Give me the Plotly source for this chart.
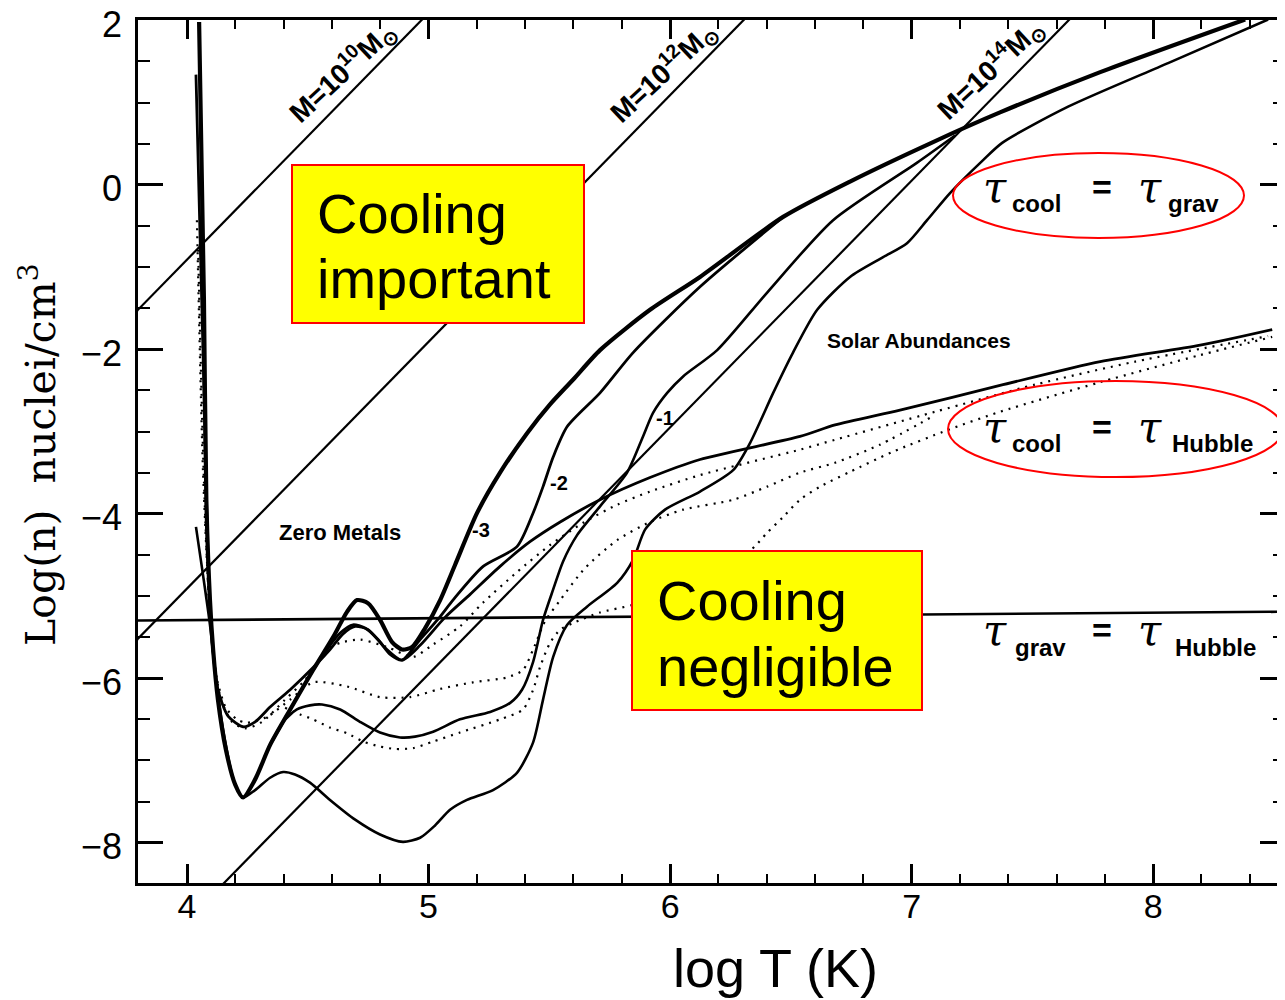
import plotly.graph_objects as go

# ---------------- data (log T [K], log n [nuclei/cm^3]) ----------------
# tau_cool = tau_grav, zero metals (thick)
logT_zero = [4.05, 4.07, 4.08, 4.095, 4.108, 4.128, 4.161, 4.199, 4.232, 4.282, 4.344, 4.427, 4.522, 4.605,
             4.663, 4.704, 4.750, 4.799, 4.849, 4.890, 4.932, 4.986, 5.048, 5.110, 5.201, 5.296, 5.408, 5.503,
             5.598, 5.710, 5.917, 6.124, 6.468, 6.745, 7.089, 7.366, 7.781, 8.381]
logn_zero = [1.98, -1.40, -3.83, -5.05, -5.65, -6.26, -6.87, -7.29, -7.45, -7.23, -6.81, -6.38, -5.90, -5.50,
             -5.19, -5.05, -5.09, -5.29, -5.56, -5.65, -5.62, -5.39, -5.05, -4.62, -3.99, -3.50, -3.02, -2.67,
             -2.37, -2.01, -1.52, -1.12, -0.39, 0.04, 0.52, 0.88, 1.37, 2.01]

# [Fe/H] = -2 curve
logT_m2 = [4.344, 4.427, 4.522, 4.584, 4.634, 4.687, 4.737, 4.791, 4.841, 4.890, 4.965, 5.048, 5.101, 5.226,
           5.366, 5.433, 5.474, 5.516, 5.574, 5.710, 5.847, 6.124, 6.468]
logn_m2 = [-6.81, -6.38, -5.90, -5.63, -5.45, -5.35, -5.39, -5.53, -5.71, -5.78, -5.53, -5.25, -5.05, -4.64,
           -4.40, -3.99, -3.67, -3.31, -2.94, -2.53, -2.04, -1.24, -0.39]

# [Fe/H] = -1 curve
logT_m1 = [4.344, 4.398, 4.455, 4.509, 4.559, 4.634, 4.716, 4.799, 4.882, 4.944, 5.019, 5.130, 5.255, 5.338,
           5.387, 5.433, 5.474, 5.516, 5.557, 5.615, 5.710, 5.822, 5.888, 5.930, 5.988, 6.054, 6.195, 6.402,
           6.675, 7.023, 7.180]
logn_m1 = [-6.81, -6.53, -6.38, -6.33, -6.32, -6.38, -6.53, -6.66, -6.72, -6.71, -6.65, -6.50, -6.41, -6.30,
           -6.14, -5.80, -5.29, -4.92, -4.58, -4.26, -3.91, -3.50, -3.06, -2.77, -2.53, -2.33, -2.01, -1.31,
           -0.43, 0.27, 0.60]

# solar abundances
logT_sol = [4.037, 4.066, 4.095, 4.120, 4.157, 4.195, 4.232, 4.282, 4.344, 4.398, 4.447, 4.509, 4.592, 4.696,
            4.799, 4.894, 4.965, 5.027, 5.089, 5.159, 5.267, 5.366, 5.433, 5.474, 5.516, 5.574, 5.656, 5.781,
            5.847, 5.897, 5.979, 6.124, 6.261, 6.331, 6.427, 6.509, 6.609, 6.745, 6.882, 6.981, 7.064, 7.159,
            7.296, 7.375, 7.648, 8.062, 8.476]
logn_sol = [-4.16, -4.74, -5.35, -6.02, -6.75, -7.26, -7.45, -7.36, -7.21, -7.14, -7.17, -7.27, -7.48, -7.72,
            -7.90, -7.99, -7.94, -7.79, -7.60, -7.48, -7.36, -7.15, -6.78, -6.26, -5.74, -5.35, -5.13, -4.84,
            -4.56, -4.19, -3.95, -3.73, -3.47, -3.14, -2.53, -2.04, -1.52, -1.12, -0.88, -0.71, -0.43, -0.10,
            0.30, 0.51, 0.95, 1.48, 2.01]

# tau_cool = tau_Hubble, zero metals (solid)
logT_hub = [4.037, 4.066, 4.087, 4.104, 4.128, 4.170, 4.232, 4.282, 4.344, 4.427, 4.522, 4.592, 4.646, 4.696,
            4.750, 4.820, 4.890, 4.965, 5.068, 5.172, 5.296, 5.420, 5.545, 5.710, 5.917, 6.124, 6.538, 6.683,
            6.952, 7.366, 7.781, 8.195, 8.493]
logn_hub = [1.34, -2.01, -4.56, -5.53, -6.14, -6.46, -6.59, -6.53, -6.35, -6.14, -5.87, -5.65, -5.46, -5.37,
            -5.41, -5.63, -5.78, -5.60, -5.26, -4.98, -4.64, -4.34, -4.10, -3.83, -3.56, -3.34, -3.06, -2.92,
            -2.74, -2.44, -2.15, -1.95, -1.76]

# dotted curves
logT_dot_a = [4.041, 4.066, 4.091, 4.112, 4.141, 4.186, 4.240, 4.311, 4.406, 4.489, 4.542, 4.580, 4.634, 4.716,
              4.828, 4.936, 5.019, 5.130, 5.226, 5.366, 5.503, 5.640, 5.781, 5.917, 6.124, 6.538, 6.683, 7.097,
              7.511, 7.926, 8.476]
logn_dot_a = [-0.43, -3.47, -5.05, -5.78, -6.26, -6.53, -6.61, -6.53, -6.26, -6.02, -5.80, -5.65, -5.57, -5.53,
              -5.62, -5.74, -5.59, -5.37, -5.08, -4.71, -4.38, -4.11, -3.89, -3.73, -3.53, -3.22, -3.10, -2.76,
              -2.43, -2.15, -1.84]

logT_dot_b = [4.046, 4.070, 4.095, 4.120, 4.161, 4.207, 4.248, 4.331, 4.427, 4.522, 4.663, 4.799, 4.923, 5.048,
              5.184, 5.325, 5.391, 5.433, 5.482, 5.545, 5.648, 5.781, 5.917, 6.054, 6.261, 6.402, 6.538, 6.683,
              6.869, 7.097]
logn_dot_b = [-0.79, -3.59, -5.29, -5.96, -6.36, -6.50, -6.54, -6.47, -6.26, -6.05, -6.10, -6.23, -6.23, -6.13,
              -6.05, -5.99, -5.90, -5.65, -5.31, -5.05, -4.66, -4.32, -4.10, -3.95, -3.83, -3.67, -3.50, -3.38,
              -3.16, -2.80]

logT_dot_c = [4.406, 4.468, 4.522, 4.592, 4.663, 4.729, 4.799, 4.861, 4.936, 5.019, 5.130, 5.296, 5.391, 5.433,
              5.462, 5.503, 5.545, 5.598, 5.710, 5.843, 6.083, 6.331, 6.402, 6.468, 6.538, 6.621, 6.745, 6.919,
              7.151, 7.366, 7.781, 8.195, 8.493]
logn_dot_c = [-6.36, -6.44, -6.50, -6.60, -6.67, -6.77, -6.83, -6.86, -6.85, -6.77, -6.66, -6.50, -6.38, -6.14,
              -5.86, -5.57, -5.41, -5.33, -5.20, -5.11, -4.86, -4.45, -4.23, -4.04, -3.83, -3.67, -3.49, -3.25,
              -2.98, -2.76, -2.40, -2.07, -1.85]

# constant-mass lines (slope 3): end points
mass_exp = ["10", "12", "14"]
mass_logT = [[3.70, 5.20], [3.70, 6.50], [4.00, 7.80]]
mass_logn = [[-1.81, 2.69], [-5.81, 2.59], [-8.95, 2.45]]

# tau_grav = tau_Hubble line
hub_logT = [3.70, 8.60]
hub_logn = [-5.30, -5.19]

x_ticks = [4, 5, 6, 7, 8]
y_ticks = [-8, -6, -4, -2, 0, 2]
y_ticktext = ["\u22128", "\u22126", "\u22124", "\u22122", "0", "2"]

# ---------------- figure ----------------
fig = go.Figure()


def curve(x, y, width=2.5, dash=None):
    fig.add_trace(go.Scatter(x=x, y=y, mode="lines",
                             line=dict(color="black", width=width, shape="spline", smoothing=0.7,
                                       dash=dash),
                             hoverinfo="skip"))


for xs, ys in zip(mass_logT, mass_logn):
    fig.add_trace(go.Scatter(x=xs, y=ys, mode="lines", line=dict(color="black", width=2.2), hoverinfo="skip"))
fig.add_trace(go.Scatter(x=hub_logT, y=hub_logn, mode="lines", line=dict(color="black", width=2.6),
                         hoverinfo="skip"))

curve(logT_dot_a, logn_dot_a, 2.2, "2px,6px")
curve(logT_dot_b, logn_dot_b, 2.2, "2px,6px")
curve(logT_dot_c, logn_dot_c, 2.2, "2px,6px")
curve(logT_hub, logn_hub, 2.8)
curve(logT_sol, logn_sol, 2.6)
curve(logT_m1, logn_m1, 2.6)
curve(logT_m2, logn_m2, 2.8)
curve(logT_zero, logn_zero, 4.2)

# The page body has an 8 px default margin: figure is drawn from page (8, 8).
OFF = 8
FIG_W, FIG_H = 1285 - OFF, 1000 - OFF
# plot-area frame in page pixels (for layout items)
L, R, T, B = 138, 1285, 20, 883


def px(x):
    return (x - L) / (R - L)


def py(y):
    return (B - y) / (B - T)


tick_font = dict(family="Liberation Sans Narrow, Liberation Sans, Arial", size=36, color="black")

fig.update_layout(
    width=FIG_W, height=FIG_H,
    margin=dict(l=L - OFF, r=0, t=T - OFF, b=FIG_H - (B - OFF), autoexpand=False),
    paper_bgcolor="white", plot_bgcolor="white",
    showlegend=False,
    xaxis=dict(range=[3.797, 8.546], tickmode="array", tickvals=x_ticks, automargin=False,
               ticks="inside", ticklen=19, tickwidth=2.5, tickcolor="black",
               showline=True, linewidth=3, linecolor="black", mirror="ticks",
               showgrid=False, zeroline=False,
               minor=dict(dtick=0.2, tick0=4, ticks="inside", ticklen=9, tickwidth=2,
                          tickcolor="black", showgrid=False),
               tickfont=dict(family="Liberation Sans Narrow, Liberation Sans, Arial", size=34, color="black"),
               ticklabelstandoff=-9, ticklabeloverflow="allow"),
    yaxis=dict(range=[-8.49, 2.004], tickmode="array", tickvals=y_ticks, ticktext=y_ticktext,
               automargin=False,
               ticks="inside", ticklen=25, tickwidth=2.5, tickcolor="black",
               showline=True, linewidth=2.5, linecolor="black", mirror="ticks",
               showgrid=False, zeroline=False,
               minor=dict(dtick=0.5, tick0=0, ticks="inside", ticklen=12, tickwidth=2,
                          tickcolor="black", showgrid=False),
               tickfont=tick_font, ticklabelstandoff=6, ticklabelshift=4, ticklabeloverflow="allow"),
)

shapes = []
# yellow boxes
for (x0, y0, x1, y1) in [(292, 165, 584, 323), (632, 551, 922, 710)]:
    shapes.append(dict(type="rect", xref="paper", yref="paper", x0=px(x0), x1=px(x1), y0=py(y1), y1=py(y0),
                       fillcolor="#FFFF00", line=dict(color="#FF0000", width=2), layer="above"))
# red ellipses
for (x0, y0, x1, y1) in [(953, 153, 1244, 238), (948, 381, 1283, 477)]:
    shapes.append(dict(type="circle", xref="paper", yref="paper", x0=px(x0), x1=px(x1), y0=py(y1), y1=py(y0),
                       line=dict(color="#FF0000", width=2), layer="above"))
fig.update_layout(shapes=shapes)

ann = []


def text(t, x, y, size, family="Liberation Sans, Arial", angle=0, xanchor="center", color="black"):
    ann.append(dict(text=t, x=px(x), y=py(y), xref="paper", yref="paper", showarrow=False,
                    xanchor=xanchor, yanchor="middle", textangle=angle,
                    font=dict(family=family, size=size, color=color)))


# box texts
text("Cooling", 315, 213, 56, xanchor="left")
text("important", 315, 278, 56, xanchor="left")
text("Cooling", 655, 600, 56, xanchor="left")
text("negligible", 655, 666, 56, xanchor="left")

# axis titles
text("log T (K)", 775, 968, 54)
text("Log(n)\u00a0\u00a0nuclei/cm<sup>3</sup>", 38, 455, 41, family="DejaVu Serif", angle=-90)

# mass labels
for e, (cx, cy) in zip(mass_exp, [(342, 72), (663, 72), (990, 69)]):
    text("<b>M=10<sup>" + e + "</sup>M<sub>\u2299</sub></b>", cx, cy, 28, angle=-43)

# curve labels
bold = "Liberation Sans, Arial"
text("<b>Zero Metals</b>", 340, 532, 22, family=bold)
text("<b>Solar Abundances</b>", 919, 340, 21, family=bold)
text("<b>-3</b>", 481, 530, 20, family=bold)
text("<b>-2</b>", 559, 483, 20, family=bold)
text("<b>-1</b>", 665, 418, 20, family=bold)

# timescale equalities
tau_f = "DejaVu Serif"
for (yt, ys, sub1, sub2, x2) in [(187, 204, "cool", "grav", 1193),
                                  (427, 443, "cool", "Hubble", 1212),
                                  (630, 647, "grav", "Hubble", 1215)]:
    text("<i>\u03c4</i>", 995, yt, 42, family=tau_f)
    text("<b>" + sub1 + "</b>", 1036 if sub1 == "cool" else 1040, ys, 24, family=bold)
    text("<b>=</b>", 1102, yt, 34, family=bold)
    text("<i>\u03c4</i>", 1150, yt, 42, family=tau_f)
    text("<b>" + sub2 + "</b>", x2, ys, 24, family=bold)

fig.update_layout(annotations=ann)

fig.write_html("out.html")
